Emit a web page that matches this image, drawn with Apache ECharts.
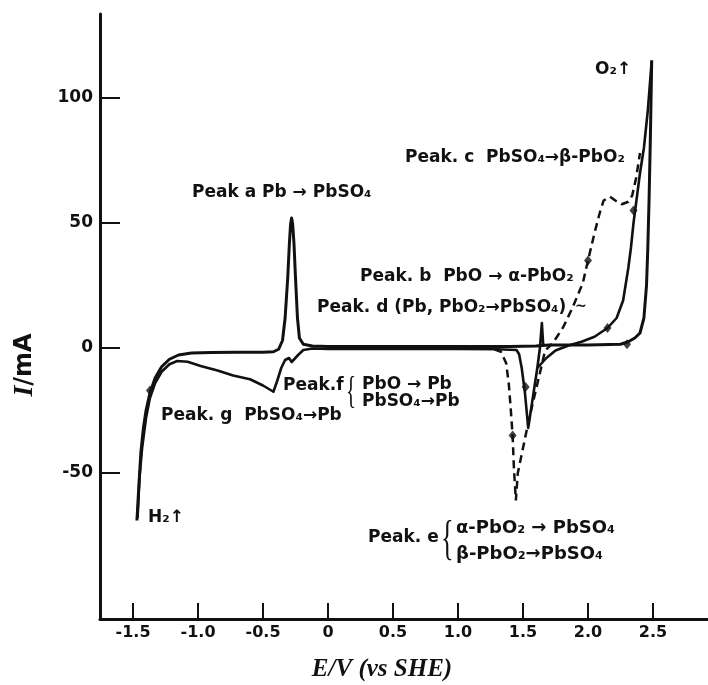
<!DOCTYPE html>
<html>
<head>
<meta charset="utf-8">
<script src="https://cdn.jsdelivr.net/npm/echarts@6/dist/echarts.min.js"></script>
<style>
html,body{margin:0;padding:0;background:#fff;}
#chart{width:708px;height:685px;}
</style>
</head>
<body>
<div id="chart"></div>
<script>
// ---- data (E / V vs SHE, I / mA) ----
const xTicks = [-1.5, -1.0, -0.5, 0, 0.5, 1.0, 1.5, 2.0, 2.5];
const yTicks = [-50, 0, 50, 100];

// solid curve, anodic sweep (H2 region -> O2 region)
const anodicSweep = [
  [-1.47,-69],[-1.455,-55],[-1.44,-42],[-1.42,-32],[-1.40,-25],[-1.37,-18],[-1.33,-12],
  [-1.28,-7.5],[-1.22,-4.5],[-1.15,-2.8],[-1.05,-2],[-0.9,-1.8],[-0.7,-1.7],[-0.5,-1.7],
  [-0.42,-1.5],[-0.38,-0.5],[-0.35,3],[-0.33,12],[-0.31,28],[-0.297,42],[-0.288,49.5],
  [-0.28,52],[-0.272,49.5],[-0.262,42],[-0.25,28],[-0.235,12],[-0.22,4],[-0.19,1.5],
  [-0.12,0.8],[0,0.6],[0.5,0.6],[1.0,0.6],[1.4,0.6],[1.6,0.8],[1.7,1.2],[2.0,1.2],
  [2.25,1.5],[2.31,2.5],[2.36,4],[2.40,6],[2.43,12],[2.45,25],[2.46,40],[2.47,60],
  [2.48,85],[2.49,115]
];
// solid curve, cathodic sweep (O2 region -> H2 region)
const cathodicSweep = [
  [2.49,115],[2.46,95],[2.43,80],[2.40,70],[2.37,58],[2.35,50],[2.33,40],[2.31,32],
  [2.27,19],[2.22,12],[2.15,8],[2.05,4.5],[1.95,2.5],[1.85,1],[1.75,-1],[1.68,-4],
  [1.61,-8],[1.575,-20],[1.54,-32],[1.515,-18],[1.49,-8],[1.47,-2.5],[1.45,-0.8],
  [1.3,-0.5],[1.0,-0.4],[0.5,-0.4],[0,-0.4],[-0.12,-0.2],[-0.19,-0.8],[-0.23,-2.8],
  [-0.26,-4.5],[-0.28,-5.6],[-0.30,-4],[-0.33,-4.8],[-0.36,-8],[-0.39,-13],[-0.42,-17.5],
  [-0.5,-15],[-0.6,-12.5],[-0.73,-11],[-0.85,-9],[-0.98,-7.2],[-1.08,-5.5],[-1.16,-5.2],
  [-1.22,-6.5],[-1.28,-9.5],[-1.33,-14],[-1.37,-20],[-1.40,-28],[-1.43,-40],[-1.45,-52],
  [-1.465,-68]
];
// peak d spike
const peakDSpike = [[1.61,-8],[1.63,0],[1.645,10],[1.655,1.5],[1.67,1]];
// dashed curve (peaks e, b, c)
const dashedSweep = [
  [1.28,-0.5],[1.33,-1.5],[1.37,-6],[1.39,-14],[1.405,-24],[1.42,-35],[1.43,-48],
  [1.445,-61],[1.46,-50],[1.50,-40],[1.54,-30],[1.58,-21],[1.63,-10],[1.67,-1],
  [1.73,2],[1.81,8.4],[1.88,16],[1.96,26],[2.0,35],[2.05,46],[2.09,54],[2.12,59],
  [2.17,60.5],[2.21,59],[2.26,57.5],[2.31,58.5],[2.34,61],[2.37,68],[2.40,78]
];
// direction arrows on the curves
const arrowMarks = [[-1.37,-17],[1.42,-35],[1.52,-15.6],[2.0,35],[2.15,8],[2.30,1.5],[2.35,55]];

// ---- chart ----
const chart = echarts.init(document.getElementById('chart'), null, {renderer:'canvas'});
const INK = '#111';
const F = '"DejaVu Sans", sans-serif';
function ann(x, y, text, size) {
  return {type:'text', x:x, y:y, z:100,
    style:{text:text, fill:INK, font:'bold '+(size||17)+'px '+F, verticalAlign:'middle', align:'left'}};
}
function brace(x, y, size) {
  return {type:'text', x:x, y:y, z:100, scaleX:0.55,
    style:{text:'{', fill:INK, font:size+'px "Liberation Serif", serif', verticalAlign:'middle', align:'left'}};
}
const option = {
  animation:false,
  backgroundColor:'#ffffff',
  grid:{left:100, right:0, top:14, bottom:66},
  xAxis:{
    type:'value', min:-1.754, max:2.923,
    axisLine:{show:true, onZero:false, lineStyle:{color:INK, width:3}},
    axisTick:{show:true, inside:true, length:16, customValues:xTicks, lineStyle:{color:INK, width:2}},
    axisLabel:{customValues:xTicks, color:INK, fontFamily:F, fontWeight:'bold', fontSize:16, margin:6,
      formatter:function(v){ return v === 0 ? '0' : v.toFixed(1); }},
    splitLine:{show:false}
  },
  yAxis:{
    type:'value', min:-108.4, max:133.6,
    axisLine:{show:true, onZero:false, lineStyle:{color:INK, width:3}},
    axisTick:{show:true, inside:true, length:20, customValues:yTicks, lineStyle:{color:INK, width:2}},
    axisLabel:{customValues:yTicks, color:INK, fontFamily:F, fontWeight:'bold', fontSize:17, margin:7},
    splitLine:{show:false}
  },
  series:[
    {type:'line', data:anodicSweep, showSymbol:false, smooth:false, lineStyle:{color:INK, width:3, join:'round'}},
    {type:'line', data:cathodicSweep, showSymbol:false, smooth:false, lineStyle:{color:INK, width:2.6, join:'round'}},
    {type:'line', data:peakDSpike, showSymbol:false, smooth:false, lineStyle:{color:INK, width:2.6, join:'round'}},
    {type:'line', data:dashedSweep, showSymbol:false, smooth:false, lineStyle:{color:INK, width:2.5, type:[8,5]}},
    {type:'scatter', data:arrowMarks, symbol:'diamond', symbolSize:[8,10], itemStyle:{color:INK}}
  ],
  graphic:[
    ann(192,193,'Peak a Pb → PbSO₄'),
    ann(405,158,'Peak. c  PbSO₄→β-PbO₂'),
    ann(360,277,'Peak. b  PbO → α-PbO₂'),
    ann(317,308,'Peak. d (Pb, PbO₂→PbSO₄)'),
    ann(575,306,'~',14),
    ann(595,70,'O₂↑'),
    ann(148,518,'H₂↑'),
    ann(161,416,'Peak. g  PbSO₄→Pb'),
    ann(283,386,'Peak.f'),
    brace(346,393,38),
    ann(362,385,'PbO → Pb'),
    ann(362,402,'PbSO₄→Pb'),
    ann(368,538,'Peak. e'),
    brace(441,541,48),
    ann(456,528,'α-PbO₂ → PbSO₄',18),
    ann(456,554,'β-PbO₂→PbSO₄',18),
    {type:'text', x:25, y:365, rotation:Math.PI/2, z:100,
      style:{text:'{i|I}{r|/mA}', align:'center', verticalAlign:'middle', fill:INK,
        rich:{i:{font:'italic bold 28px "Liberation Serif", serif', fill:INK},
              r:{font:'bold 24px '+F, fill:INK}}}},
    {type:'text', x:382, y:670, z:100,
      style:{text:'E/V (vs SHE)', align:'center', verticalAlign:'middle', fill:INK,
        font:'italic bold 25px "Liberation Serif", serif'}}
  ]
};
chart.setOption(option);
</script>
</body>
</html>
